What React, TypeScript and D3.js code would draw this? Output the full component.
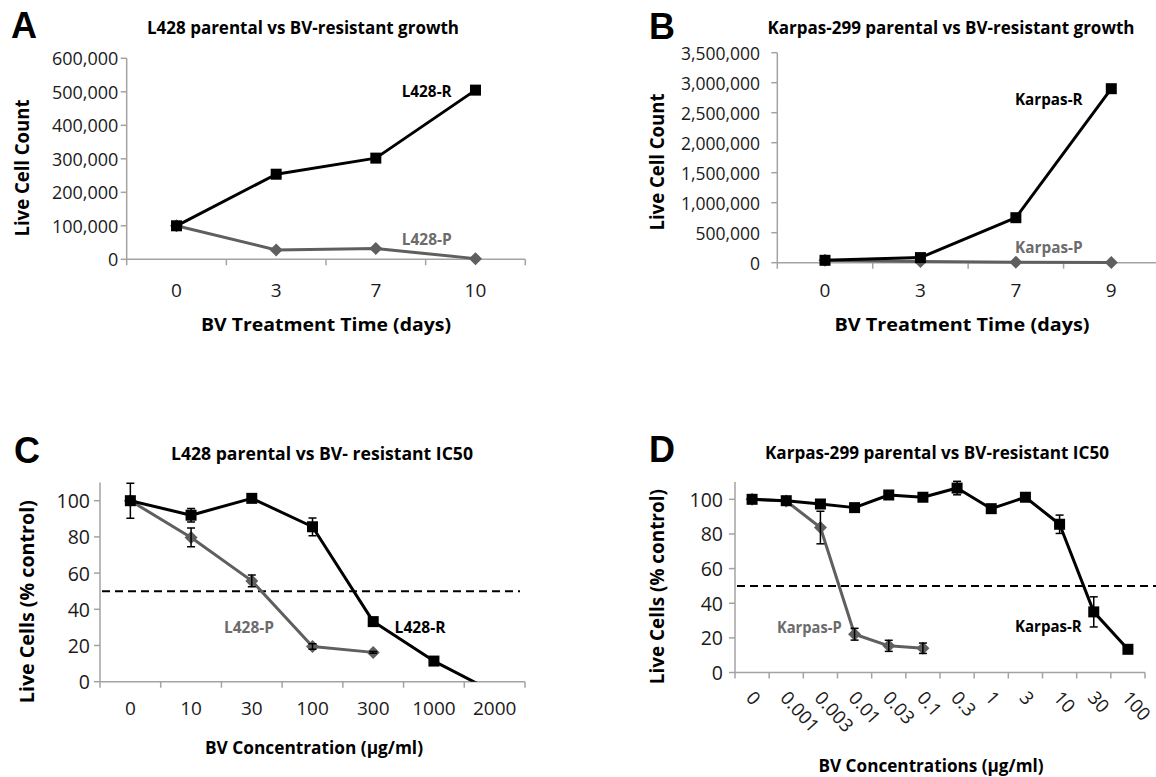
import React from "react";
import * as d3 from "d3";

const FONT = "'Open Sans', 'DejaVu Sans', sans-serif";
const GRAY = "#5f5f5f";
const LABEL_GRAY = "#6c6c6c";
const AXIS = "#a3a3a3";

// A: L428 growth (cells counted per day)
const daysA = ["0", "3", "7", "10"];
const l428RCount = [100000, 254000, 302000, 505000];
const l428PCount = [100000, 28000, 32000, 2000];
const countTicksA = [0, 100000, 200000, 300000, 400000, 500000, 600000];

// B: Karpas-299 growth
const daysB = ["0", "3", "7", "9"];
const karpasRCount = [40000, 85000, 750000, 2900000];
const karpasPCount = [40000, 20000, 8000, 4000];
const countTicksB = [0, 500000, 1000000, 1500000, 2000000, 2500000, 3000000, 3500000];

// C: L428 IC50 (% control)
const concC = ["0", "10", "30", "100", "300", "1000", "2000"];
const l428RPct = [100, 92, 101.3, 85.6, 33.2, 11.4, -6];
const l428RErr = [9.7, 3.7, 1, 4.9, 1, 0.5, 0];
const l428PPct = [100, 79.7, 55.7, 19.4, 16.2];
const l428PErr = [1.5, 5.2, 3.2, 1.5, 0.5];

// D: Karpas-299 IC50 (% control)
const concD = ["0", "0.001", "0.003", "0.01", "0.03", "0.1", "0.3", "1", "3", "10", "30", "100"];
const karpasRPct = [100, 99.2, 97.3, 95.2, 102.5, 101.2, 106.5, 94.6, 101.2, 85.6, 35, 13.4];
const karpasRErr = [1.5, 1, 1, 1, 1, 1, 3.9, 1, 1, 5.3, 8.7, 1];
const karpasPPct = [100, 99, 83.7, 22.1, 15.4, 14];
const karpasPErr = [1, 1, 9.4, 3.4, 3.2, 3];

const pctTicks = [0, 20, 40, 60, 80, 100];

type Series = {
  values: number[];
  errors?: number[];
  color: string;
  marker: "square" | "diamond";
};

type TextSpec = { text: string; x: number; y: number; len: number; color?: string };

type PanelProps = {
  id: string;
  letter: { text: string; x: number; y: number };
  title: TextSpec;
  yTitle: TextSpec;
  xTitle: TextSpec;
  categories: string[];
  x0: number;
  x1: number;
  yDomain: [number, number];
  yBottom: number;
  yTop: number;
  yTicks: number[];
  yFormat: (v: number) => string;
  yLabelEnd: number;
  yTickSize: number;
  xLabelY: number;
  rotateX?: boolean;
  series: Series[];
  labels: TextSpec[];
  refLine?: { value: number; xEnd: number };
  clip?: boolean;
};

function Marker({ x, y, kind, color }: { x: number; y: number; kind: string; color: string }) {
  if (kind === "square") {
    return <rect x={x - 5.5} y={y - 5.5} width={11} height={11} fill={color} />;
  }
  const r = 6.5;
  return <path d={`M${x},${y - r}L${x + r},${y}L${x},${y + r}L${x - r},${y}Z`} fill={color} />;
}

function Panel(p: PanelProps) {
  const x = d3.scaleBand<string>().domain(p.categories).range([p.x0, p.x1]);
  const y = d3.scaleLinear().domain(p.yDomain).range([p.yBottom, p.yTop]);
  const bw = x.bandwidth();
  const cx = (i: number) => (x(p.categories[i]) as number) + bw / 2;
  const line = d3
    .line<number>()
    .x((_, i) => cx(i))
    .y((v) => y(v));
  const bounds = [p.x0, ...p.categories.map((c) => (x(c) as number) + bw)];
  const clipUrl = p.clip ? `url(#clip-${p.id})` : undefined;

  return (
    <g fontFamily={FONT}>
      {p.clip && (
        <clipPath id={`clip-${p.id}`}>
          <rect x={p.x0 - 30} y={p.yTop - 40} width={p.x1 - p.x0 + 60} height={p.yBottom - p.yTop + 40} />
        </clipPath>
      )}
      <text x={p.letter.x} y={p.letter.y} fontFamily="'Liberation Sans', Arial, sans-serif" fontWeight="bold" fontSize={36}>
        {p.letter.text}
      </text>
      <text
        x={p.title.x}
        y={p.title.y}
        textAnchor="middle"
        fontWeight="bold"
        fontSize={17.5}
        textLength={p.title.len}
        lengthAdjust="spacingAndGlyphs"
      >
        {p.title.text}
      </text>

      {/* axes */}
      <line x1={p.x0} x2={p.x0} y1={p.yBottom} y2={p.yTop} stroke={AXIS} strokeWidth={1.5} />
      <line x1={p.x0} x2={p.x1} y1={p.yBottom} y2={p.yBottom} stroke={AXIS} strokeWidth={1.5} />
      {p.yTicks.map((t) => (
        <g key={"yt" + t}>
          <line x1={p.x0 - 6} x2={p.x0} y1={y(t)} y2={y(t)} stroke={AXIS} strokeWidth={1.5} />
          <text x={p.yLabelEnd} y={y(t)} textAnchor="end" dominantBaseline="central" fontSize={p.yTickSize} fill="#1a1a1a">
            {p.yFormat(t)}
          </text>
        </g>
      ))}
      {bounds.map((b, i) => (
        <line key={"xt" + i} x1={b} x2={b} y1={p.yBottom} y2={p.yBottom + 6} stroke={AXIS} strokeWidth={1.5} />
      ))}
      {p.categories.map((c, i) =>
        p.rotateX ? (
          <text
            key={"xl" + c}
            transform={`translate(${cx(i) - 7},${p.yBottom + 26}) rotate(48)`}
            fontSize={18.5}
            fill="#1a1a1a"
          >
            {c}
          </text>
        ) : (
          <text key={"xl" + c} x={cx(i)} y={p.xLabelY} textAnchor="middle" dominantBaseline="central" fontSize={19} fill="#1a1a1a">
            {c}
          </text>
        )
      )}
      <text
        transform={`translate(${p.yTitle.x},${p.yTitle.y}) rotate(-90)`}
        textAnchor="middle"
        dominantBaseline="central"
        fontWeight="bold"
        fontSize={19}
        textLength={p.yTitle.len}
        lengthAdjust="spacingAndGlyphs"
      >
        {p.yTitle.text}
      </text>
      <text
        x={p.xTitle.x}
        y={p.xTitle.y}
        textAnchor="middle"
        dominantBaseline="central"
        fontWeight="bold"
        fontSize={18}
        textLength={p.xTitle.len}
        lengthAdjust="spacingAndGlyphs"
      >
        {p.xTitle.text}
      </text>

      {p.refLine && (
        <line
          x1={p.x0 + 2}
          x2={p.refLine.xEnd}
          y1={y(p.refLine.value)}
          y2={y(p.refLine.value)}
          stroke="#000"
          strokeWidth={2}
          strokeDasharray="8,5"
        />
      )}

      {/* series: parental first, resistant on top */}
      <g clipPath={clipUrl}>
        {p.series.map((s, si) => (
          <g key={"s" + si}>
            <path d={line(s.values) || ""} fill="none" stroke={s.color} strokeWidth={3} strokeLinejoin="round" />
            {s.values.map((v, i) => (
              <Marker key={i} x={cx(i)} y={y(v)} kind={s.marker} color={s.color} />
            ))}
          </g>
        ))}
        {p.series.map((s, si) =>
          (s.errors || []).map((e, i) =>
            e > 0 ? (
              <g key={`e${si}-${i}`} stroke="#000" strokeWidth={1.5}>
                <line x1={cx(i)} x2={cx(i)} y1={y(s.values[i] + e)} y2={y(s.values[i] - e)} />
                <line x1={cx(i) - 4} x2={cx(i) + 4} y1={y(s.values[i] + e)} y2={y(s.values[i] + e)} />
                <line x1={cx(i) - 4} x2={cx(i) + 4} y1={y(s.values[i] - e)} y2={y(s.values[i] - e)} />
              </g>
            ) : null
          )
        )}
      </g>

      {p.labels.map((l) => (
        <text
          key={l.text}
          x={l.x}
          y={l.y}
          dominantBaseline="central"
          fontWeight="bold"
          fontSize={16.5}
          fill={l.color || "#000"}
          textLength={l.len}
          lengthAdjust="spacingAndGlyphs"
        >
          {l.text}
        </text>
      ))}
    </g>
  );
}

const fmtCount = d3.format(",");
const fmtPct = d3.format("d");

export default function App() {
  return (
    <svg
      width={1156}
      height={777}
      viewBox="0 0 1156 777"
      style={{ position: "absolute", left: 0, top: 0, background: "#fff" }}
    >
      <rect width={1156} height={777} fill="#fff" />
      <Panel
        id="a"
        letter={{ text: "A", x: 11, y: 38 }}
        title={{ text: "L428 parental vs BV-resistant growth", x: 303, y: 34, len: 312 }}
        yTitle={{ text: "Live Cell Count", x: 22, y: 168, len: 137 }}
        xTitle={{ text: "BV Treatment Time (days)", x: 326, y: 324, len: 250 }}
        categories={daysA}
        x0={126.7}
        x1={525.3}
        yDomain={[0, 600000]}
        yBottom={259.3}
        yTop={58.3}
        yTicks={countTicksA}
        yFormat={fmtCount}
        yLabelEnd={118.3}
        yTickSize={18}
        xLabelY={290}
        series={[
          { values: l428PCount, color: GRAY, marker: "diamond" },
          { values: l428RCount, color: "#000", marker: "square" },
        ]}
        labels={[
          { text: "L428-R", x: 401.7, y: 90.7, len: 50 },
          { text: "L428-P", x: 401.7, y: 238.3, len: 50, color: LABEL_GRAY },
        ]}
      />
      <Panel
        id="b"
        letter={{ text: "B", x: 649, y: 39 }}
        title={{ text: "Karpas-299 parental vs BV-resistant growth", x: 951, y: 34, len: 367 }}
        yTitle={{ text: "Live Cell Count", x: 657, y: 162, len: 137 }}
        xTitle={{ text: "BV Treatment Time (days)", x: 962, y: 324, len: 255 }}
        categories={daysB}
        x0={777.3}
        x1={1159}
        yDomain={[0, 3500000]}
        yBottom={262.7}
        yTop={52.7}
        yTicks={countTicksB}
        yFormat={fmtCount}
        yLabelEnd={760}
        yTickSize={17.5}
        xLabelY={290}
        series={[
          { values: karpasPCount, color: GRAY, marker: "diamond" },
          { values: karpasRCount, color: "#000", marker: "square" },
        ]}
        labels={[
          { text: "Karpas-R", x: 1015, y: 98.3, len: 67.6 },
          { text: "Karpas-P", x: 1015, y: 246.7, len: 67.6, color: LABEL_GRAY },
        ]}
      />
      <Panel
        id="c"
        letter={{ text: "C", x: 14, y: 463 }}
        title={{ text: "L428 parental vs  BV- resistant  IC50", x: 322, y: 460, len: 302 }}
        yTitle={{ text: "Live Cells (% control)", x: 27, y: 601.7, len: 203 }}
        xTitle={{ text: "BV Concentration (µg/ml)", x: 314, y: 746.7, len: 218 }}
        categories={concC}
        x0={100}
        x1={525}
        yDomain={[0, 110]}
        yBottom={681.7}
        yTop={482.6}
        yTicks={pctTicks}
        yFormat={fmtPct}
        yLabelEnd={90}
        yTickSize={19.5}
        xLabelY={708.3}
        series={[
          { values: l428PPct, errors: l428PErr, color: GRAY, marker: "diamond" },
          { values: l428RPct, errors: l428RErr, color: "#000", marker: "square" },
        ]}
        labels={[
          { text: "L428-P", x: 224, y: 626.7, len: 50, color: LABEL_GRAY },
          { text: "L428-R", x: 394.6, y: 626, len: 51 },
        ]}
        refLine={{ value: 50, xEnd: 520 }}
        clip
      />
      <Panel
        id="d"
        letter={{ text: "D", x: 649, y: 462 }}
        title={{ text: "Karpas-299 parental vs BV-resistant IC50", x: 937, y: 458.5, len: 344 }}
        yTitle={{ text: "Live Cells (% control)", x: 657, y: 586.7, len: 195 }}
        xTitle={{ text: "BV Concentrations (µg/ml)", x: 931, y: 765, len: 225 }}
        categories={concD}
        x0={735}
        x1={1145}
        yDomain={[0, 110]}
        yBottom={672.5}
        yTop={482}
        yTicks={pctTicks}
        yFormat={fmtPct}
        yLabelEnd={723}
        yTickSize={19.5}
        xLabelY={700}
        rotateX
        series={[
          { values: karpasPPct, errors: karpasPErr, color: GRAY, marker: "diamond" },
          { values: karpasRPct, errors: karpasRErr, color: "#000", marker: "square" },
        ]}
        labels={[
          { text: "Karpas-P", x: 777, y: 626.7, len: 64.6, color: LABEL_GRAY },
          { text: "Karpas-R", x: 1015, y: 625, len: 66.7 },
        ]}
        refLine={{ value: 50, xEnd: 1156 }}
      />
    </svg>
  );
}
